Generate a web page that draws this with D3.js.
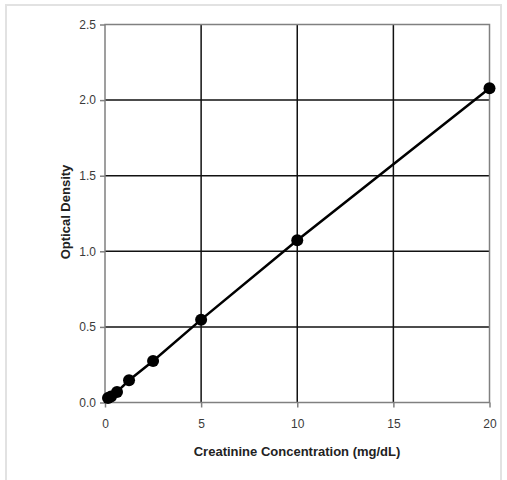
<!DOCTYPE html>
<html lang="en">
<head>
<meta charset="utf-8">
<title>Creatinine standard curve</title>
<script src="https://cdn.jsdelivr.net/npm/d3@7"></script>
<style>
  body { margin: 0; background: #fff; }
  text { font-family: "Liberation Sans", Arial, sans-serif; }
</style>
</head>
<body>
<script>
// data
var concentration = [0.156, 0.3125, 0.625, 1.25, 2.5, 5, 10, 20];
var density = [0.03, 0.04, 0.07, 0.147, 0.275, 0.548, 1.073, 2.078];
var xTicks = [0, 5, 10, 15, 20];
var yTicks = [0, 0.5, 1.0, 1.5, 2.0, 2.5];

var w = 507, h = 480;
var plotL = 105, plotR = 489.5, plotT = 24.5, plotB = 402.5;

var svg = d3.select("body").append("svg")
  .attr("width", w).attr("height", h);

// light outer frame
svg.append("rect")
  .attr("x", 6).attr("y", 5).attr("width", 495).attr("height", 480)
  .attr("fill", "none").attr("stroke", "#e2e2e2").attr("stroke-width", 2);

var x = d3.scaleLinear().domain([0, 20]).range([plotL, plotR]);
var y = d3.scaleLinear().domain([0, 2.5]).range([plotB, plotT]);

// grid lines
svg.append("g").selectAll("line")
  .data(xTicks.slice(1, -1))
  .enter().append("line")
  .attr("x1", function(d) { return x(d); }).attr("x2", function(d) { return x(d); })
  .attr("y1", plotT).attr("y2", plotB)
  .attr("stroke", "#111").attr("stroke-width", 1.5);

svg.append("g").selectAll("line")
  .data(yTicks.slice(1, -1))
  .enter().append("line")
  .attr("y1", function(d) { return y(d); }).attr("y2", function(d) { return y(d); })
  .attr("x1", plotL).attr("x2", plotR)
  .attr("stroke", "#111").attr("stroke-width", 1.5);

// plot frame
svg.append("rect")
  .attr("x", plotL).attr("y", plotT)
  .attr("width", plotR - plotL).attr("height", plotB - plotT)
  .attr("fill", "none").attr("stroke", "#808080").attr("stroke-width", 1.5);

// axes
var xAxis = svg.append("g")
  .attr("transform", "translate(0," + plotB + ")")
  .call(d3.axisBottom(x).tickValues(xTicks).tickSize(5).tickPadding(12).tickFormat(d3.format("d")));
var yAxis = svg.append("g")
  .attr("transform", "translate(" + plotL + ",0)")
  .call(d3.axisLeft(y).tickValues(yTicks).tickSize(5).tickPadding(4).tickFormat(d3.format(".1f")));

[xAxis, yAxis].forEach(function(a) {
  a.select(".domain").remove();
  a.selectAll(".tick line").attr("stroke", "#808080").attr("stroke-width", 1.5);
  a.selectAll(".tick text").attr("fill", "#3a3a3a").style("font-size", "12px");
});

// curve
var line = d3.line()
  .x(function(d, i) { return x(concentration[i]); })
  .y(function(d) { return y(d); });

svg.append("path")
  .datum(density)
  .attr("d", line)
  .attr("fill", "none")
  .attr("stroke", "#000")
  .attr("stroke-width", 2.5);

svg.append("g").selectAll("circle")
  .data(density)
  .enter().append("circle")
  .attr("cx", function(d, i) { return x(concentration[i]); })
  .attr("cy", function(d) { return y(d); })
  .attr("r", 6)
  .attr("fill", "#000");

// axis titles
svg.append("text")
  .attr("x", 297).attr("y", 456)
  .attr("text-anchor", "middle")
  .attr("fill", "#222")
  .style("font-size", "13px").style("font-weight", "bold")
  .text("Creatinine Concentration (mg/dL)");

svg.append("text")
  .attr("transform", "translate(70,212) rotate(-90)")
  .attr("text-anchor", "middle")
  .attr("fill", "#222")
  .style("font-size", "13px").style("font-weight", "bold")
  .text("Optical Density");
</script>
</body>
</html>
